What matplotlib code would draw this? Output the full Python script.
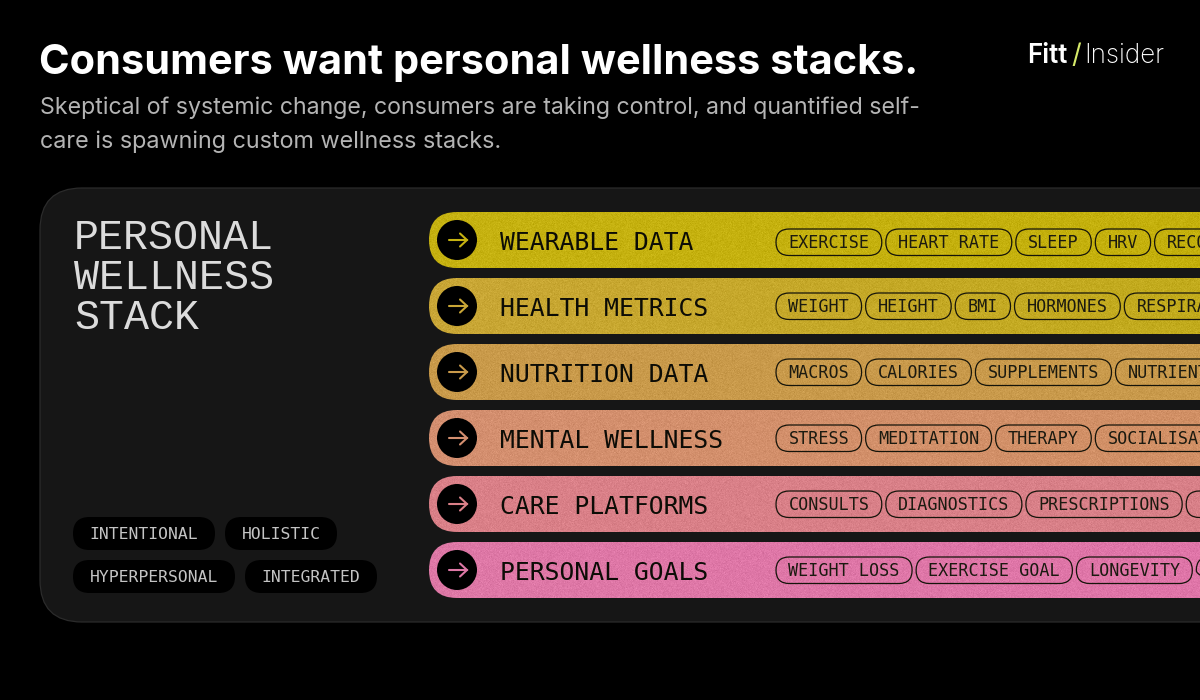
"""Personal wellness stack graphic, drawn in pixel coordinates."""

import matplotlib
matplotlib.use("Agg")
import matplotlib.pyplot as plt
import numpy as np
from matplotlib.colors import to_rgb
from matplotlib.patches import Circle, FancyBboxPatch

TITLE = "Consumers want personal wellness stacks."
SUBTITLE_LINES = [
    "Skeptical of systemic change, consumers are taking control, and quantified self-",
    "care is spawning custom wellness stacks.",
]
PANEL_TITLE = ["PERSONAL", "WELLNESS", "STACK"]
TAGS_TOP = ["INTENTIONAL", "HOLISTIC"]
TAGS_BOTTOM = ["HYPERPERSONAL", "INTEGRATED"]

ROW_NAMES = [
    "WEARABLE DATA",
    "HEALTH METRICS",
    "NUTRITION DATA",
    "MENTAL WELLNESS",
    "CARE PLATFORMS",
    "PERSONAL GOALS",
]
ROW_ITEMS = [
    ["EXERCISE", "HEART RATE", "SLEEP", "HRV", "RECOVERY"],
    ["WEIGHT", "HEIGHT", "BMI", "HORMONES", "RESPIRATION"],
    ["MACROS", "CALORIES", "SUPPLEMENTS", "NUTRIENTS"],
    ["STRESS", "MEDITATION", "THERAPY", "SOCIALISATION"],
    ["CONSULTS", "DIAGNOSTICS", "PRESCRIPTIONS", "        "],
    ["WEIGHT LOSS", "EXERCISE GOAL", "LONGEVITY", "        "],
]
ROW_LEFT_COLORS = ["#c6b211", "#c9a636", "#c99a4a", "#d48f70", "#da8088", "#de78a6"]
ROW_RIGHT_COLORS = ["#c4b00c", "#c2ab1c", "#c99a4c", "#d19065", "#d88088", "#df75a8"]

MONO = "DejaVu Sans Mono"
LIGHT_MONO = "Liberation Mono"
SANS = "Inter"
PX = 0.72  # points per pixel at dpi 100

rng = np.random.default_rng(7)  # paper grain texture only, no chart values


def pill(ax, x, y, w, h, face, edge="none", lw=0.0, z=3):
    patch = FancyBboxPatch((x, y), w, h, boxstyle=f"round,pad=0,rounding_size={h / 2}",
                           facecolor=face, edgecolor=edge, linewidth=lw, zorder=z)
    ax.add_patch(patch)
    return patch


def fit_text(fig, txt, width):
    """Scale a text's font size so that it spans the given pixel width."""
    box = txt.get_window_extent(fig.canvas.get_renderer())
    txt.set_fontsize(txt.get_fontsize() * width / box.width)


def draw_header(fig, ax):
    t = ax.text(39, 74, TITLE, color="white", family=SANS, weight="bold", fontsize=46 * PX)
    fit_text(fig, t, 878)
    for line, y, w in zip(SUBTITLE_LINES, [114, 148], [883, 463]):
        t = ax.text(40, y, line, color="#b4b4b4", family=SANS, fontsize=24 * PX)
        fit_text(fig, t, w)

    ax.text(1027, 63, "Fitt", color="white", family=SANS, weight="semibold", fontsize=26 * PX)
    ax.text(1071, 63, "/", color="#d6ea6a", family=SANS, fontsize=27 * PX)
    ax.text(1084, 63, "Insider", color="white", family=SANS, weight="light", fontsize=26 * PX)


def draw_panel(ax):
    ax.add_patch(FancyBboxPatch((40, 188), 1300, 434, boxstyle="round,pad=0,rounding_size=42",
                                facecolor="#161616", edgecolor="#2b2b2b", linewidth=0.9, zorder=1))
    for i, word in enumerate(PANEL_TITLE):
        ax.text(74, 249 + i * 40, word, color="#dcdcdc", family=LIGHT_MONO,
                fontsize=41.7 * PX, zorder=3)

    for tags, y in zip([TAGS_TOP, TAGS_BOTTOM], [517, 560]):
        x = 73
        for tag in tags:
            w = len(tag) * 10 + 32
            pill(ax, x, y, w, 33, "black")
            ax.text(x + w / 2, y + 22, tag, color="#c4c4c4", family=MONO, ha="center",
                    fontsize=16.4 * PX, zorder=4)
            x += w + 10


def draw_row(ax, i):
    top = 212 + i * 66
    left, right = to_rgb(ROW_LEFT_COLORS[i]), to_rgb(ROW_RIGHT_COLORS[i])
    h, w = 56, 771
    ramp = np.linspace(0, 1, w)[None, :, None]
    img = np.array(left)[None, None, :] * (1 - ramp) + np.array(right)[None, None, :] * ramp
    img = np.repeat(img, h, axis=0) + rng.normal(0, 0.018, (h, w, 1))

    shape = FancyBboxPatch((429, top), 900, h, boxstyle="round,pad=0,rounding_size=28",
                           facecolor="none", edgecolor="none", transform=ax.transData)
    ax.add_patch(shape)
    im = ax.imshow(np.clip(img, 0, 1), extent=(429, 1200, top + h, top), aspect="auto",
                   interpolation="nearest", zorder=2)
    im.set_clip_path(shape)

    cy = top + 28
    ax.add_patch(Circle((457, cy), 20, facecolor="black", edgecolor="none", zorder=3))
    ax.plot([449, 467], [cy, cy], color=ROW_LEFT_COLORS[i], lw=1.5, zorder=4, solid_capstyle="round")
    ax.plot([460, 467, 460], [cy - 6.5, cy, cy + 6.5], color=ROW_LEFT_COLORS[i], lw=1.5, zorder=4,
            solid_capstyle="round", solid_joinstyle="miter")

    ax.text(500, cy + 10, ROW_NAMES[i], color="#0c0c06", family=MONO, fontsize=24.7 * PX, zorder=4)

    pill_top = top + (17 if i == 0 else 15)
    x = 776
    for item in ROW_ITEMS[i]:
        pw = len(item) * 10.1 + 25
        pill(ax, x, pill_top, pw, 26.5, "none", edge="#15140a", lw=0.9, z=4)
        ax.text(x + pw / 2, pill_top + 19.2, item, color="#1b1a10", family=MONO, ha="center",
                fontsize=16.8 * PX, zorder=4, clip_on=True)
        x += pw + 4


def main():
    fig = plt.figure(figsize=(12, 7), dpi=100, facecolor="black")
    ax = fig.add_axes([0, 0, 1, 1])
    ax.set_facecolor("black")
    ax.axis("off")

    draw_panel(ax)
    for i in range(len(ROW_NAMES)):
        draw_row(ax, i)
    ax.set_xlim(0, 1200)
    ax.set_ylim(700, 0)
    draw_header(fig, ax)

    fig.savefig("out.png", dpi=100, facecolor="black")
    plt.close(fig)


if __name__ == "__main__":
    main()
